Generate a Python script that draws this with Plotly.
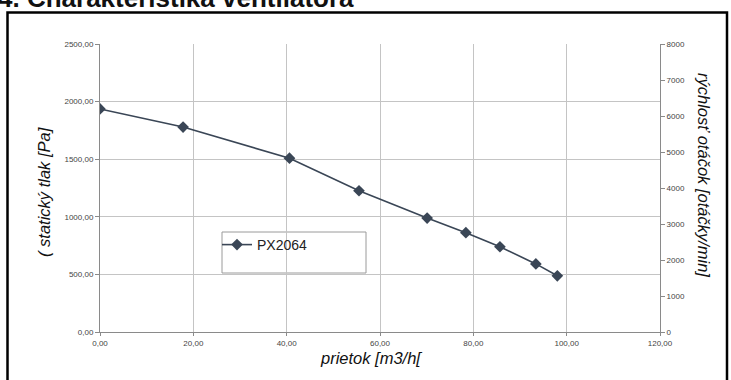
import plotly.graph_objects as go

# Data
flow = [0.0, 17.8, 40.6, 55.5, 70.1, 78.4, 85.7, 93.4, 98.0]          # prietok [m3/h]
pressure = [1936, 1779, 1509, 1226, 989, 862, 740, 591, 488]          # statický tlak [Pa]
series_name = "PX2064"
left_ticks = [0, 500, 1000, 1500, 2000, 2500]
right_ticks = [0, 1000, 2000, 3000, 4000, 5000, 6000, 7000, 8000]
x_ticks = [0, 20, 40, 60, 80, 100, 120]

W, H = 731, 380
ML, MR, MT, MB = 100, 71, 44, 48
FONT = "Liberation Sans, Arial, sans-serif"

fig = go.Figure()
fig.add_trace(go.Scatter(
    x=flow, y=pressure, name=series_name, mode="lines+markers",
    line=dict(color="#3a4656", width=1.6),
    marker=dict(symbol="diamond", size=9, color="#3a4656"),
))
# empty trace so the right axis is drawn
fig.add_trace(go.Scatter(x=[None], y=[None], yaxis="y2", showlegend=False,
                         hoverinfo="skip", mode="lines"))

tickfont = dict(family=FONT, size=8, color="#444")
fig.update_layout(
    width=W, height=H,
    margin=dict(l=ML, r=MR, t=MT, b=MB, pad=0),
    paper_bgcolor="white", plot_bgcolor="white",
    separators=", ",
    font=dict(family=FONT),
    xaxis=dict(range=[0, 120], tickvals=x_ticks, tickformat=".2f",
               showgrid=True, gridcolor="#c4c4c4", gridwidth=1,
               showline=True, linecolor="#8a8a8a", linewidth=1,
               ticks="outside", ticklen=3, tickcolor="#8a8a8a",
               tickfont=tickfont, zeroline=False, fixedrange=True),
    yaxis=dict(range=[0, 2500], tickvals=left_ticks, tickformat=".2f",
               showgrid=True, gridcolor="#c4c4c4", gridwidth=1,
               showline=True, linecolor="#8a8a8a", linewidth=1,
               ticks="outside", ticklen=4, tickcolor="#8a8a8a",
               tickfont=tickfont, zeroline=False, fixedrange=True),
    yaxis2=dict(range=[0, 8000], tickvals=right_ticks, tickformat="d",
                overlaying="y", side="right", showgrid=False,
                showline=True, linecolor="#8a8a8a", linewidth=1,
                ticks="outside", ticklen=4, tickcolor="#8a8a8a",
                tickfont=tickfont, zeroline=False, fixedrange=True),
    showlegend=True,
)

pw = W - ML - MR
ph = H - MT - MB
def px(xp):
    return (xp - ML) / pw
def py(yp):
    return (H - MB - yp) / ph

fig.update_layout(legend=dict(x=px(217), y=py(229), xanchor="left", yanchor="top",
                              bgcolor="rgba(0,0,0,0)", borderwidth=0, itemwidth=30,
                              font=dict(family=FONT, size=14, color="#222")))

# legend box
fig.add_shape(type="rect", xref="paper", yref="paper",
              x0=px(222), x1=px(366), y0=py(273), y1=py(232),
              line=dict(color="#9a9a9a", width=1), fillcolor="white", layer="below")

# outer frame
fig.add_shape(type="rect", xref="paper", yref="paper",
              x0=px(7.5), x1=px(727), y0=py(390), y1=py(12.5),
              line=dict(color="black", width=2.5), fillcolor="rgba(0,0,0,0)")

# axis titles
fig.add_annotation(text="<i>( statický tlak [Pa]</i>", xref="paper", yref="paper",
                   x=px(44), y=py(192), textangle=-90, showarrow=False,
                   font=dict(family=FONT, size=16.5, color="#111"),
                   xanchor="center", yanchor="middle")
fig.add_annotation(text="<i>rýchlosť otáčok [otáčky/min]</i>", xref="paper", yref="paper",
                   x=px(704), y=py(175), textangle=90, showarrow=False,
                   font=dict(family=FONT, size=16.5, color="#111"),
                   xanchor="center", yanchor="middle")
fig.add_annotation(text="<i>prietok [m3/h[</i>", xref="paper", yref="paper",
                   x=px(371), y=py(358), showarrow=False,
                   font=dict(family=FONT, size=16.5, color="#111"),
                   xanchor="center", yanchor="middle")
# heading, cut off at the very top as in the reference
fig.add_annotation(text="<b>4. Charakteristika ventilátora</b>", xref="paper", yref="paper",
                   x=px(-4), y=py(-2), showarrow=False,
                   font=dict(family=FONT, size=26, color="#111"),
                   xanchor="left", yanchor="middle")

fig.write_html("out.html")
